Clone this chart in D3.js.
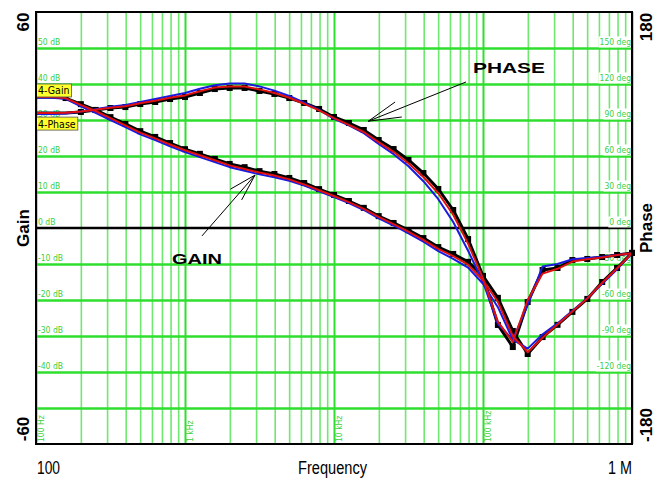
<!DOCTYPE html>
<html><head><meta charset="utf-8">
<script src="https://cdn.jsdelivr.net/npm/d3@7"></script>
<style>
html,body{margin:0;padding:0;background:#fff;}
svg{display:block;}
.narrow{font-family:"Liberation Sans Narrow","DejaVu Sans Condensed","Arial Narrow",sans-serif;}
</style></head>
<body>
<svg id="c" width="660" height="478"></svg>
<script>
// ---------- DATA ----------
const freqs = [100,126,158,200,251,316,398,501,631,794,1000,1259,1585,1995,2512,3162,3981,5012,6310,7943,10000,12589,15849,19953,25119,31623,39811,50119,63096,79433,100000,125893,158489,199526,251189,316228,398107,501187,630957,794328,1000000];
const gainBlack = [36.4,36.4,36.1,34.4,32.8,30.8,28.9,26.9,25.3,23.6,21.9,20.6,19.2,17.8,16.9,15.8,15.0,13.9,12.5,10.8,9.2,7.5,5.6,3.3,1.4,-0.6,-2.8,-5.3,-7.2,-9.4,-13.3,-19.4,-28.6,-35.0,-30.3,-26.9,-23.3,-19.7,-15.0,-11.1,-6.9];
const gainRed   = [36.4,36.4,36.1,34.2,32.5,30.5,28.5,26.5,24.9,23.2,21.6,20.2,18.8,17.4,16.4,15.4,14.6,13.5,12.1,10.5,8.9,7.2,5.3,3.1,1.1,-1.0,-3.3,-5.8,-7.8,-10.2,-14.5,-20.5,-30.0,-34.5,-30.5,-26.8,-23.2,-19.6,-15.2,-11.2,-7.0];
const gainBlue  = [36.2,36.2,35.9,33.8,32.0,30.0,28.0,26.0,24.4,22.7,21.1,19.7,18.3,16.9,15.9,14.9,14.1,13.1,11.8,10.2,8.6,6.9,5.0,2.7,0.7,-1.5,-3.8,-6.4,-8.6,-11.0,-15.5,-22.0,-31.0,-33.5,-29.5,-26.5,-23.0,-19.5,-15.5,-11.5,-7.0];
const phaseBlack = [95.8,95.8,95.8,96.7,98.3,100,100.8,103.3,105,107.5,109.2,112.5,115.8,116.7,116.7,114.2,111.7,108.3,104.2,99.2,92.5,87.5,81.7,73.3,65.8,56.7,45.8,32.5,15,-9.2,-40,-80.8,-99.2,-61.7,-35,-33.3,-26.7,-25.8,-24.2,-22.5,-20.8];
const phaseRed   = [95.8,95.8,96,97,98.5,100.3,101.5,104,106,108.5,110.5,114,117,118,118,115.5,112.5,108.5,103.5,98,91.5,86,80,71.5,63.5,54,42.5,29,11,-13,-42,-78,-95,-60,-38,-34,-28,-26,-24.5,-22.5,-21];
const phaseBlue  = [95,95,95.5,97,99,101,102.5,105,107.5,110,112.5,116,119,120.5,120.5,118,114.5,110,104.5,98.5,91,85.5,79,70,61.5,51.5,39,24,5,-19,-45,-80,-93,-64,-32,-30,-26,-25,-24,-22.5,-21];
const gainTicks = [50,40,30,20,10,0,-10,-20,-30,-40];
const gainTickLabels = ["50 dB","40 dB","30 dB","20 dB","10 dB","0 dB","-10 dB","-20 dB","-30 dB","-40 dB"];
const phaseTicks = [150,120,90,60,30,0,-30,-60,-90,-120];
const phaseTickLabels = ["150 deg","120 deg","90 deg","60 deg","30 deg","0 deg","-30 deg","-60 deg","-90 deg","-120 deg"];
const gridGain = [-50,-40,-30,-20,-10,10,20,30,40,50];
const decades = [100,1000,10000,100000,1000000];
const decadeLabels = ["100 Hz","1 kHz","10 kHz","100 kHz"];
const minorMults = [2,3,4,5,6,7,8,9];
const legendLabels = ["4-Gain","4-Phase"];
const legendLevels = [38.2,29.0];

// ---------- LAYOUT ----------
const L=36,R=632,T=12,B=444;
const svg=d3.select("#c");
const x=d3.scaleLog().domain([100,1e6]).range([L,R]);
const yG=d3.scaleLinear().domain([-60,60]).range([B,T]);
const yP=d3.scaleLinear().domain([-180,180]).range([B,T]);
const green="#2fdf2f", greenMinor="#6fe86f", labGreen="#3ccf3c";
const SANS="Liberation Sans, Arial, sans-serif";

// vertical minor gridlines
const minorF=[];
decades.slice(0,4).forEach(d=>minorMults.forEach(m=>minorF.push(d*m)));
svg.append("g").attr("transform",`translate(0,${B})`)
  .call(d3.axisBottom(x).tickValues(minorF).tickSize(-(B-T)).tickFormat(""))
  .call(g=>g.select(".domain").remove())
  .call(g=>g.selectAll("line").attr("stroke",greenMinor).attr("stroke-width",1.6));
svg.append("g").attr("transform",`translate(0,${B})`)
  .call(d3.axisBottom(x).tickValues(decades).tickSize(-(B-T)).tickFormat(""))
  .call(g=>g.select(".domain").remove())
  .call(g=>g.selectAll("line").attr("stroke",green).attr("stroke-width",2));
// horizontal gridlines
svg.append("g").attr("transform",`translate(${L},0)`)
  .call(d3.axisLeft(yG).tickValues(gridGain).tickSize(-(R-L)).tickFormat(""))
  .call(g=>g.select(".domain").remove())
  .call(g=>g.selectAll("line").attr("stroke",green).attr("stroke-width",2.6));
// zero line
svg.append("line").attr("x1",L).attr("x2",R).attr("y1",yG(0)).attr("y2",yG(0)).attr("stroke","#000").attr("stroke-width",2.4);

// left in-plot labels
svg.append("g").selectAll("text").data(gainTicks).join("text").attr("class","narrow")
  .attr("x",L+2).attr("y",d=>yG(d)-3.5).attr("font-size",8.5).attr("fill",labGreen)
  .text((d,i)=>gainTickLabels[i]);
// right in-plot labels with white backing
const rl=svg.append("g");
phaseTicks.forEach((d,i)=>{
  const g=rl.append("g");
  const t=g.append("text").attr("class","narrow").attr("x",R-1).attr("y",yP(d)-3.5)
    .attr("text-anchor","end").attr("font-size",8.5).attr("fill",labGreen).text(phaseTickLabels[i]);
  const bb=t.node().getBBox();
  g.insert("rect","text").attr("x",bb.x-1).attr("y",bb.y).attr("width",bb.width+1).attr("height",bb.height+1).attr("fill","#fff");
});
// bottom decade labels (rotated)
svg.append("g").selectAll("text").data(decades.slice(0,4)).join("text").attr("class","narrow")
  .attr("transform",d=>`translate(${x(d)+8},${B-2}) rotate(-90)`)
  .attr("font-size",8.5).attr("fill",labGreen).text((d,i)=>decadeLabels[i]);

// curves
const lineG=d3.line().x((d,i)=>x(freqs[i])).y(d=>yG(d));
const lineP=d3.line().x((d,i)=>x(freqs[i])).y(d=>yP(d));
const curves=svg.append("g").attr("fill","none").attr("stroke-linejoin","round");
curves.append("path").attr("d",lineG(gainBlack)).attr("stroke","#000").attr("stroke-width",3);
curves.append("path").attr("d",lineP(phaseBlack)).attr("stroke","#000").attr("stroke-width",3);
svg.append("g").selectAll("rect").data(gainBlack.slice(2)).join("rect")
  .attr("x",(d,i)=>x(freqs[i+2])-3).attr("y",d=>yG(d)-3).attr("width",6).attr("height",6).attr("fill","#000");
svg.append("g").selectAll("rect").data(phaseBlack.slice(3)).join("rect")
  .attr("x",(d,i)=>x(freqs[i+3])-3).attr("y",d=>yP(d)-3).attr("width",6).attr("height",6).attr("fill","#000");
const curves2=svg.append("g").attr("fill","none").attr("stroke-linejoin","round");
curves2.append("path").attr("d",lineG(gainBlue)).attr("stroke","#1a1ae0").attr("stroke-width",2);
curves2.append("path").attr("d",lineP(phaseBlue)).attr("stroke","#1a1ae0").attr("stroke-width",2);
curves2.append("path").attr("d",lineG(gainRed)).attr("stroke","#e01010").attr("stroke-width",2);
curves2.append("path").attr("d",lineP(phaseRed)).attr("stroke","#e01010").attr("stroke-width",2);

// legend boxes
legendLabels.forEach((lab,i)=>{
  const g=svg.append("g");
  const t=g.append("text").attr("class","narrow").attr("x",L+2).attr("y",yG(legendLevels[i])+4)
    .attr("font-size",10.5).attr("fill","#000").text(lab);
  const bb=t.node().getBBox();
  g.insert("rect","text").attr("x",L).attr("y",bb.y-0.5).attr("width",bb.width+4).attr("height",bb.height+1)
    .attr("fill","#ffff2a").attr("stroke","#555").attr("stroke-width",0.8);
});

// frame
svg.append("rect").attr("x",L).attr("y",T).attr("width",R-L).attr("height",B-T)
  .attr("fill","none").attr("stroke","#000").attr("stroke-width",2);

// annotations (anchored in data coordinates)
const ann=svg.append("g").attr("stroke","#000").attr("stroke-width",1);
function arrow(tip,tail,b1,b2,sc){
  const p=[x(tip[0]),sc(tip[1])];
  [tail,b1,b2].forEach(q=>ann.append("line").attr("x1",p[0]).attr("y1",p[1]).attr("x2",x(q[0])).attr("y2",sc(q[1])));
}
arrow([17000,89],[77000,121.7],[25700,105],[28500,92.5],yP);
arrow([2950,14.7],[1300,-2.2],[2020,10.8],[2400,7.8],yG);
svg.append("text").attr("x",473).attr("y",73).attr("font-family",SANS)
  .attr("font-weight","bold").attr("font-size",15).attr("textLength",72).attr("lengthAdjust","spacingAndGlyphs").text("PHASE");
svg.append("text").attr("x",172).attr("y",264).attr("font-family",SANS)
  .attr("font-weight","bold").attr("font-size",14.5).attr("textLength",50).attr("lengthAdjust","spacingAndGlyphs").text("GAIN");

// axis titles
const bt=(t,cx,cy)=>svg.append("text").attr("transform",`translate(${cx},${cy}) rotate(-90)`)
  .attr("text-anchor","middle").attr("dominant-baseline","central")
  .attr("font-family",SANS).attr("font-weight","bold").attr("font-size",17).text(t);
bt("60",23,22); bt("Gain",23,yG(0)); bt("-60",23,429);
bt("180",646,27); bt("Phase",646,yP(0)); bt("-180",646,425);
const bl=(t,xx,w)=>svg.append("text").attr("x",xx).attr("y",474).attr("font-family",SANS)
  .attr("font-size",18).attr("textLength",w).attr("lengthAdjust","spacingAndGlyphs").text(t);
bl("100",37,23); bl("Frequency",298,69); bl("1 M",608,24);
</script>
</body></html>
